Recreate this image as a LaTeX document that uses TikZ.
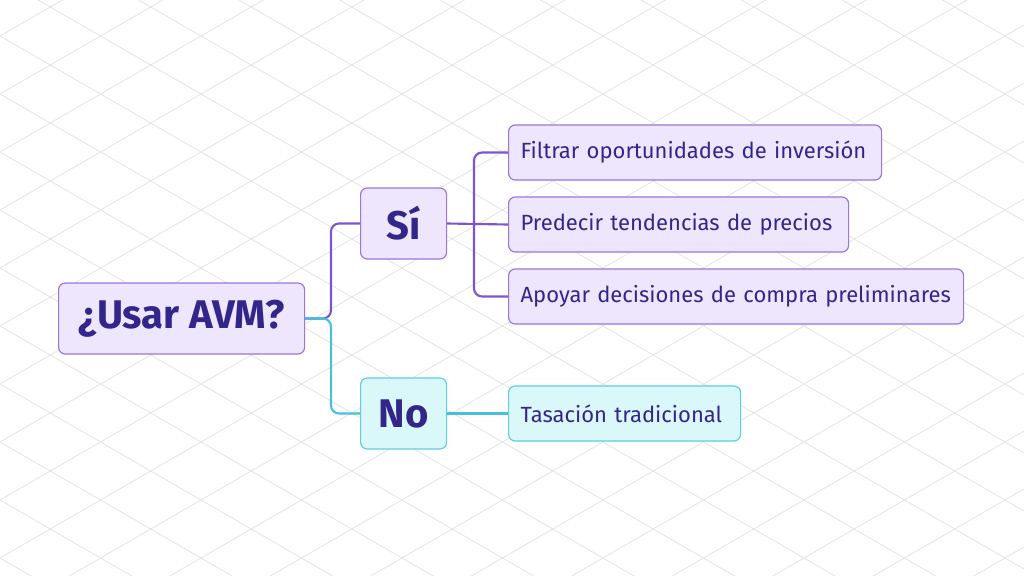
\documentclass[tikz,border=0pt]{standalone}
\usepackage{fontspec}
\setmainfont{Fira Sans}
\begin{document}
\begin{tikzpicture}[x=0.75pt,y=-0.75pt,
 pbox/.style={draw=pstroke,fill=pfill,rounded corners=5pt,line width=0.9pt,text=ptext,inner sep=0pt,anchor=west},
 cbox/.style={pbox,draw=cstroke,fill=cfill},
 big/.style={font=\bfseries\fontsize{30}{34}\selectfont},
 small/.style={font=\fontsize{16.5}{19}\selectfont,align=left,inner xsep=9pt},
 pline/.style={draw=plink,line width=1.6pt,rounded corners=6pt},
 cline/.style={draw=clink,line width=1.6pt,rounded corners=6pt}]
\definecolor{pstroke}{HTML}{9A76DD}
\definecolor{pfill}{HTML}{EEE6FC}
\definecolor{ptext}{HTML}{33268A}
\definecolor{cstroke}{HTML}{5CCFE3}
\definecolor{cfill}{HTML}{DAF8FA}
\definecolor{plink}{HTML}{7B55D4}
\definecolor{clink}{HTML}{45C1DC}
\definecolor{grid}{HTML}{E4E4E4}
\useasboundingbox (0,0) rectangle (1024,575);
\fill[white] (0,0) rectangle (1024,575);
\begin{scope}
\clip (0,0) rectangle (1024,575);
\foreach \c in {-660,-602,...,1200}{
 \draw[grid,line width=0.6pt] (0,\c) -- (1024,\c+591);
 \draw[grid,line width=0.6pt] (0,\c) -- (1024,\c-591);
}
\end{scope}
\coordinate (bx) at (474,0);
\coordinate (rx) at (331,0);
\node[pbox,big,minimum width=246*0.75pt,minimum height=71*0.75pt] (root) at (58,318.5) {¿Usar AVM?};
\node[pbox,big,minimum width=86*0.75pt,minimum height=71*0.75pt] (si) at (360,223.5) {Sí};
\node[cbox,big,minimum width=86*0.75pt,minimum height=71*0.75pt] (no) at (360,413.5) {No};
\node[pbox,small,text width=(373-24)*0.75pt,minimum height=55*0.75pt] (f) at (508,152.5) {Filtrar oportunidades de inversión};
\node[pbox,small,text width=(340-24)*0.75pt,minimum height=55*0.75pt] (p) at (508,224.5) {Predecir tendencias de precios};
\node[pbox,small,text width=(455-24)*0.75pt,minimum height=55*0.75pt] (a) at (508,296.5) {Apoyar decisiones de compra preliminares};
\node[cbox,small,text width=(232-24)*0.75pt,minimum height=55*0.75pt] (t) at (508,413.5) {Tasación tradicional};
\draw[pline] (root.east) -| (rx |- si.west) -- (si.west);
\draw[cline] (root.east) -| (rx |- no.west) -- (no.west);
\draw[pline] (si.east) -- (p.west);
\draw[pline] (bx |- si.east) |- (a.west);
\draw[pline] (bx |- si.east) |- (f.west);
\draw[cline] (no.east) -- (t.west);
\end{tikzpicture}
\end{document}
